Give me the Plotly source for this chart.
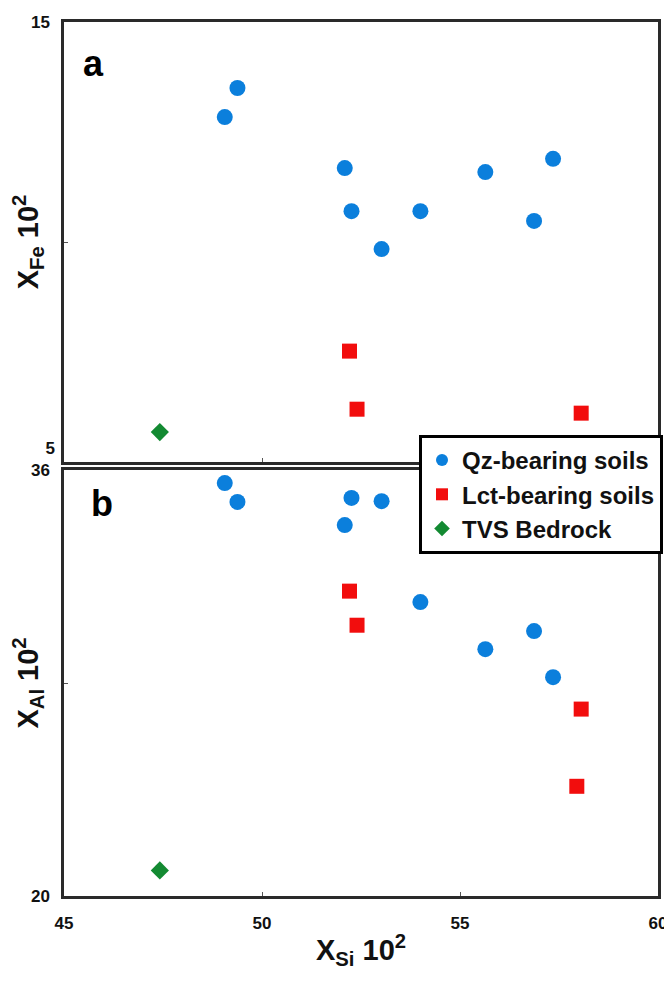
import plotly.graph_objects as go

# ---- data ----
qz_si = [49.06, 49.38, 52.09, 52.26, 53.02, 54.00, 55.64, 56.87, 57.35]
qz_fe = [12.84, 13.50, 11.68, 10.70, 9.84, 10.70, 11.59, 10.48, 11.89]
qz_al = [35.51, 34.80, 33.93, 34.95, 34.83, 31.04, 29.27, 29.95, 28.22]

lct_si = [52.21, 52.40, 58.06, 57.95]
lct_fe = [7.52, 6.20, 6.11, 5.30]
lct_al = [31.45, 30.17, 27.02, 24.12]

tvs_si = [47.42]
tvs_fe = [5.68]
tvs_al = [20.96]

x_ticks = [45, 50, 55, 60]
fe_ticks = [10, 15]
fe_text = ["", "15"]
fe_low_tick = [5]
fe_low_text = ["5"]
al_ticks = [20, 28, 36]
al_text = ["20", "", "36"]

blue = "#0b7fdc"
red = "#f20d0d"
green = "#138a32"

fig = go.Figure()

def add(x, y, name, color, symbol, size, xa, ya, show):
    fig.add_trace(go.Scatter(x=x, y=y, mode="markers", name=name,
                             marker=dict(color=color, symbol=symbol, size=size, line=dict(width=0)),
                             xaxis=xa, yaxis=ya, showlegend=show, legendgroup=name))

add(qz_si, qz_fe, "Qz-bearing soils", blue, "circle", 16, "x", "y", True)
add(lct_si, lct_fe, "Lct-bearing soils", red, "square", 15, "x", "y", True)
add(tvs_si, tvs_fe, "TVS Bedrock", green, "diamond", 14, "x", "y", True)
add(qz_si, qz_al, "Qz", blue, "circle", 16, "x2", "y2", False)
add(lct_si, lct_al, "Lct", red, "square", 15, "x2", "y2", False)
add(tvs_si, tvs_al, "TVS", green, "diamond", 14, "x2", "y2", False)
# empty trace registering the overlay axis that carries the lower "5" label
fig.add_trace(go.Scatter(x=[], y=[], xaxis="x", yaxis="y3", showlegend=False, hoverinfo="skip"))

# page has an 8px body margin; figure drawn at (8, 8)
W, H = 664, 973
L, R, T, B = 56, 9, 14, 85
H_PLOT = H - T - B  # 874
top_dom = [(H_PLOT - 440) / H_PLOT, 1.0]
bot_dom = [0.0, 426 / H_PLOT]
W_PLOT = W - L - R  # 599

narrow = "Liberation Sans Narrow, Arial Narrow, Liberation Sans, Arial"
tickfont = dict(family=narrow, size=17, color="#111", weight="bold")
titlefont = dict(family="Liberation Sans, Arial", size=29, color="#111")

axis_common = dict(showline=True, linecolor="#2a2a2a", linewidth=2.5, mirror=True,
                   showgrid=False, zeroline=False, ticks="inside", ticklen=4,
                   tickcolor="#555", tickwidth=1, tickfont=tickfont, automargin=False,
                   ticklabeloverflow="allow")

fig.update_layout(
    width=W, height=H,
    margin=dict(l=L, r=R, t=T, b=B),
    plot_bgcolor="white", paper_bgcolor="white",
    xaxis=dict(domain=[0, 1], anchor="y", range=[45, 60], tickvals=x_ticks,
               showticklabels=False, **axis_common),
    yaxis=dict(domain=top_dom, anchor="x", range=[5, 15], tickvals=fe_ticks, ticktext=fe_text,
               ticklabelstandoff=8,
               title=dict(text="<b>X<sub>Fe</sub> 10<sup>2</sup></b>", font=titlefont, standoff=2),
               **axis_common),
    yaxis3=dict(overlaying="y", anchor="x", side="left", range=[5, 15],
                tickvals=fe_low_tick, ticktext=fe_low_text, ticks="", showline=False,
                showgrid=False, zeroline=False, tickfont=tickfont, automargin=False,
                ticklabelshift=-14, ticklabelstandoff=8, ticklabeloverflow="allow"),
    xaxis2=dict(domain=[0, 1], anchor="y2", range=[45, 60], tickvals=x_ticks,
                ticklabelstandoff=10,
                title=dict(text="<b>X<sub>Si</sub> 10<sup>2</sup></b>", font=titlefont, standoff=8),
                **axis_common),
    yaxis2=dict(domain=bot_dom, anchor="x2", range=[20, 36], tickvals=al_ticks, ticktext=al_text,
                ticklabelstandoff=8,
                title=dict(text="<b>X<sub>Al</sub> 10<sup>2</sup></b>", font=titlefont, standoff=2),
                **axis_common),
    legend=dict(x=(422 - 64) / W_PLOT, y=(896 - 435) / H_PLOT, xanchor="left", yanchor="top",
                bgcolor="white", bordercolor="black", borderwidth=3,
                font=dict(family=narrow, size=24, color="#111", weight="bold"),
                itemsizing="constant", tracegroupgap=0),
    annotations=[
        dict(text="<b>a</b>", x=(94 - 64) / W_PLOT, y=(462 - 64) / 440, xref="x domain", yref="y domain",
             xanchor="center", yanchor="middle", showarrow=False,
             font=dict(family="Liberation Sans, Arial", size=36, color="black")),
        dict(text="<b>b</b>", x=(102 - 64) / W_PLOT, y=(896 - 503) / 426, xref="x2 domain", yref="y2 domain",
             xanchor="center", yanchor="middle", showarrow=False,
             font=dict(family="Liberation Sans, Arial", size=36, color="black")),
    ],
)

fig.write_html("out.html")
